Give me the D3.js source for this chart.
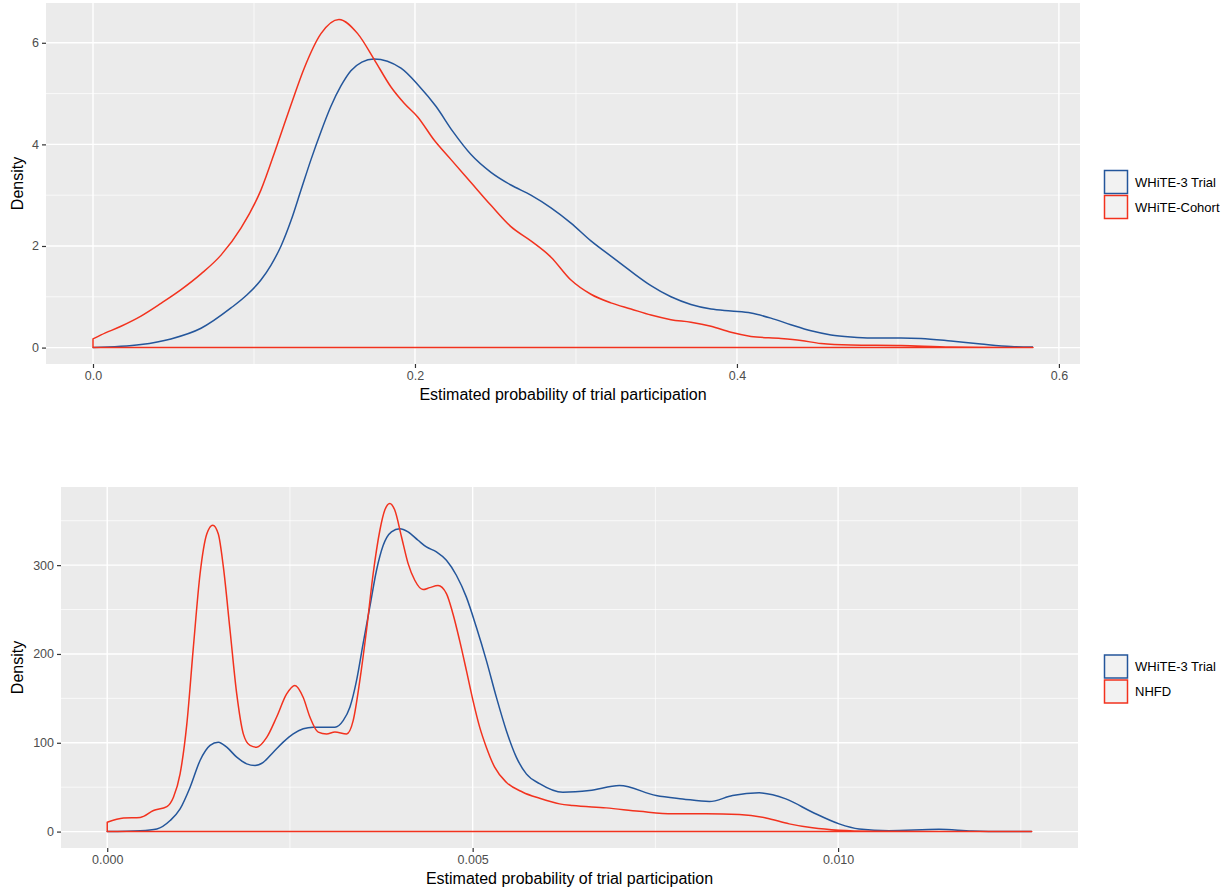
<!DOCTYPE html>
<html>
<head>
<meta charset="utf-8">
<script src="https://cdn.jsdelivr.net/npm/d3@7"></script>
<style>
  html, body { margin: 0; padding: 0; background: #ffffff; }
  svg { display: block; font-family: "Liberation Sans", Arial, Helvetica, sans-serif; }
</style>
</head>
<body>
<svg id="chart" width="1228" height="890"></svg>
<script>
// ---------------- DATA ----------------
const seriesTop = ["WHiTE-3 Trial", "WHiTE-Cohort"];
const seriesBottom = ["WHiTE-3 Trial", "NHFD"];
const xTicksTop = [0.0, 0.2, 0.4, 0.6];
const yTicksTop = [0, 2, 4, 6];
const xTicksBottom = [0.000, 0.005, 0.010];
const yTicksBottom = [0, 100, 200, 300];

// Top panel: WHiTE-3 Trial density
const topTrialX = [0, 0.0298, 0.0484, 0.0671, 0.0857, 0.0950, 0.1043, 0.1105, 0.1168, 0.1230, 0.1292, 0.1354, 0.1416, 0.1478, 0.1540, 0.1602, 0.1670, 0.1745, 0.1913, 0.2025, 0.2130, 0.2236, 0.2348, 0.2472, 0.2596, 0.2720, 0.2845, 0.2969, 0.3093, 0.3217, 0.3342, 0.3466, 0.3590, 0.3714, 0.3839, 0.3963, 0.4087, 0.4211, 0.4335, 0.4460, 0.4584, 0.4708, 0.4832, 0.5019, 0.5143, 0.5329, 0.5516, 0.5702, 0.5839];
const topTrialY = [0, 0.06, 0.17, 0.38, 0.78, 1.02, 1.33, 1.62, 2.0, 2.5, 3.1, 3.7, 4.25, 4.75, 5.15, 5.45, 5.62, 5.68, 5.5, 5.15, 4.75, 4.25, 3.8, 3.45, 3.2, 3.0, 2.75, 2.45, 2.1, 1.8, 1.5, 1.22, 1.0, 0.85, 0.76, 0.72, 0.68, 0.58, 0.45, 0.33, 0.25, 0.21, 0.19, 0.19, 0.18, 0.13, 0.07, 0.02, 0.01];

// Top panel: WHiTE-Cohort density
const topCohortX = [0, 0, 0.005, 0.0174, 0.0298, 0.0422, 0.0547, 0.0671, 0.0795, 0.0919, 0.1043, 0.1145, 0.1230, 0.1312, 0.1416, 0.1528, 0.1644, 0.1747, 0.1851, 0.1933, 0.2017, 0.2120, 0.2224, 0.2348, 0.2472, 0.2596, 0.2720, 0.2845, 0.2969, 0.3093, 0.3217, 0.3342, 0.3466, 0.3590, 0.3714, 0.3839, 0.3963, 0.4087, 0.4273, 0.4398, 0.4522, 0.4708, 0.5019, 0.5329, 0.5839];
const topCohortY = [0, 0.17, 0.25, 0.42, 0.62, 0.87, 1.14, 1.45, 1.82, 2.35, 3.1, 4.0, 4.78, 5.5, 6.18, 6.46, 6.18, 5.67, 5.13, 4.81, 4.54, 4.08, 3.7, 3.25, 2.8, 2.38, 2.1, 1.78, 1.33, 1.05, 0.88, 0.76, 0.64, 0.55, 0.5, 0.42, 0.3, 0.22, 0.18, 0.14, 0.08, 0.05, 0.04, 0.01, 0];

// Bottom panel: WHiTE-3 Trial density
const botTrialX = [0, 0.000451, 0.000679, 0.000861, 0.000997, 0.001134, 0.001270, 0.001407, 0.001520, 0.001635, 0.001772, 0.001908, 0.002022, 0.002135, 0.002272, 0.002408, 0.002545, 0.002682, 0.002818, 0.002955, 0.003115, 0.003228, 0.003320, 0.003411, 0.003501, 0.003593, 0.003684, 0.003775, 0.003889, 0.004003, 0.004116, 0.004253, 0.004367, 0.004504, 0.004641, 0.004777, 0.004914, 0.005051, 0.005187, 0.005324, 0.005460, 0.005597, 0.005734, 0.005915, 0.006234, 0.006598, 0.007008, 0.007510, 0.007873, 0.008238, 0.008556, 0.008921, 0.009285, 0.009649, 0.010014, 0.010287, 0.010697, 0.011380, 0.011831, 0.012291, 0.012650];
const botTrialY = [0, 1, 3, 12.4, 25.6, 50, 80, 97, 100.7, 95, 83.8, 76.3, 74.4, 78, 89.4, 100.7, 110, 115.8, 117.6, 117.6, 117.6, 125, 140, 170, 211.6, 253, 294, 322, 337.4, 341, 337.4, 328, 320.5, 315, 305.5, 288.6, 264, 230, 192.8, 151.4, 113.9, 83.8, 65, 54, 44.3, 46.2, 51.9, 40.6, 36.8, 33.8, 40.6, 43.6, 36.8, 21.8, 8.7, 3, 1, 2.5, 0.6, 0, 0];

// Bottom panel: NHFD density
const botNhfdX = [0, 0, 0.000223, 0.000451, 0.000633, 0.000816, 0.000906, 0.000997, 0.001089, 0.001179, 0.001270, 0.001362, 0.001444, 0.001520, 0.001589, 0.001680, 0.001772, 0.001862, 0.001954, 0.002045, 0.002182, 0.002318, 0.002455, 0.002568, 0.002682, 0.002773, 0.002887, 0.003001, 0.003115, 0.003275, 0.003365, 0.003456, 0.003548, 0.003638, 0.003730, 0.003798, 0.003866, 0.003934, 0.004026, 0.004116, 0.004208, 0.004321, 0.004413, 0.004526, 0.004641, 0.004731, 0.004822, 0.004914, 0.005004, 0.005096, 0.005187, 0.005301, 0.005460, 0.005687, 0.005915, 0.006189, 0.006370, 0.006826, 0.007281, 0.007736, 0.008193, 0.008648, 0.009012, 0.009331, 0.009649, 0.010014, 0.010469, 0.011380, 0.012650];
const botNhfdY = [0, 10.5, 15.4, 16, 23.7, 28.2, 38.7, 65, 121, 208, 290, 335, 345, 335, 298, 227, 155, 110, 97, 95, 106, 129, 155, 164.6, 151, 129, 112, 110, 112, 110, 125, 170, 227, 290, 339, 362, 369.5, 362, 332, 302, 283, 272.5, 274.7, 277, 268, 245, 215, 181.5, 147.7, 117.6, 95, 72.5, 55.6, 44.3, 37.5, 31.2, 29.3, 26.7, 22.9, 20, 20, 19.2, 15.4, 8.7, 4.2, 1.5, 0.4, 0.05, 0];

const colors = ["#24569B", "#F2321E"];

// ---------------- DRAW ----------------
const svg = d3.select("#chart");

function panel(cfg) {
  const { left, right, top, bottom, xs, ys, names, xTicks, yTicks, xFmt, minorX, minorY, legendY, titleY } = cfg;
  const xMax = d3.max(xs.flat());
  const yMax = d3.max(ys.flat());
  const x = d3.scaleLinear().domain([-0.05 * xMax, 1.05 * xMax]).range([left, right]);
  const y = d3.scaleLinear().domain([-0.05 * yMax, 1.05 * yMax]).range([bottom, top]);

  const g = svg.append("g");
  g.append("rect").attr("x", left).attr("y", top).attr("width", right - left).attr("height", bottom - top).attr("fill", "#EBEBEB");

  // minor grid
  g.selectAll(".mx").data(minorX).join("line")
    .attr("x1", d => x(d)).attr("x2", d => x(d)).attr("y1", top).attr("y2", bottom)
    .attr("stroke", "#ffffff").attr("stroke-width", 0.7);
  g.selectAll(".my").data(minorY).join("line")
    .attr("y1", d => y(d)).attr("y2", d => y(d)).attr("x1", left).attr("x2", right)
    .attr("stroke", "#ffffff").attr("stroke-width", 0.7);
  // major grid
  g.selectAll(".Mx").data(xTicks).join("line")
    .attr("x1", d => x(d)).attr("x2", d => x(d)).attr("y1", top).attr("y2", bottom)
    .attr("stroke", "#ffffff").attr("stroke-width", 1.4);
  g.selectAll(".My").data(yTicks).join("line")
    .attr("y1", d => y(d)).attr("y2", d => y(d)).attr("x1", left).attr("x2", right)
    .attr("stroke", "#ffffff").attr("stroke-width", 1.4);

  // curves (density outlines; the last series closes along the baseline on top)
  const line = d3.line().x(d => x(d[0])).y(d => y(d[1])).curve(d3.curveMonotoneX);
  xs.forEach((xa, i) => {
    const pts = xa.map((v, k) => [v, ys[i][k]]);
    let start = 0;
    if (pts.length > 1 && pts[0][0] === pts[1][0]) start = 1;
    const smooth = pts.slice(start);
    let path = `M${x(pts[0][0])},${y(0)}` + line(smooth).replace(/^M/, "L");
    if (i === xs.length - 1) {
      path += `L${x(smooth[smooth.length - 1][0])},${y(0)}Z`;
    }
    g.append("path").attr("d", path).attr("fill", "none")
      .attr("stroke", colors[i]).attr("stroke-width", 1.5).attr("stroke-linejoin", "round");
  });

  // axes
  const xAxis = d3.axisBottom(x).tickValues(xTicks).tickFormat(d3.format(xFmt)).tickSize(4).tickPadding(3);
  const ax = g.append("g").attr("transform", `translate(0,${bottom})`).call(xAxis);
  const yAxis = d3.axisLeft(y).tickValues(yTicks).tickFormat(d3.format("d")).tickSize(4).tickPadding(3);
  const ay = g.append("g").attr("transform", `translate(${left},0)`).call(yAxis);
  [ax, ay].forEach(a => {
    a.select(".domain").remove();
    a.selectAll(".tick line").attr("stroke", "#333333").attr("stroke-width", 1.2);
    a.selectAll(".tick text").attr("fill", "#4D4D4D").style("font-size", "12.5px")
      .style("font-family", "'Liberation Sans', Arial, sans-serif");
  });

  // titles
  g.append("text").attr("x", (left + right) / 2).attr("y", titleY).attr("text-anchor", "middle")
    .style("font-size", "16px").attr("fill", "#000").text("Estimated probability of trial participation");
  g.append("text").attr("transform", `translate(23,${(top + bottom) / 2}) rotate(-90)`)
    .attr("text-anchor", "middle").style("font-size", "16px").attr("fill", "#000").text("Density");

  // legend
  names.forEach((n, i) => {
    const ky = legendY + i * 25;
    g.append("rect").attr("x", 1104.5).attr("y", ky).attr("width", 23).attr("height", 23)
      .attr("fill", "#F2F2F2").attr("stroke", colors[i]).attr("stroke-width", 1.5);
    g.append("text").attr("x", 1135).attr("y", ky + 11.5).attr("dy", "0.35em")
      .style("font-size", "13px").attr("fill", "#000").text(n);
  });
}

panel({
  left: 46, right: 1080, top: 3, bottom: 364,
  xs: [topTrialX, topCohortX], ys: [topTrialY, topCohortY], names: seriesTop,
  xTicks: xTicksTop, yTicks: yTicksTop, xFmt: ".1f",
  minorX: [0.1, 0.3, 0.5], minorY: [1, 3, 5],
  legendY: 170.5, titleY: 400
});

panel({
  left: 61, right: 1078, top: 487, bottom: 848,
  xs: [botTrialX, botNhfdX], ys: [botTrialY, botNhfdY], names: seriesBottom,
  xTicks: xTicksBottom, yTicks: yTicksBottom, xFmt: ".3f",
  minorX: [0.0025, 0.0075, 0.0125], minorY: [50, 150, 250, 350],
  legendY: 655, titleY: 884
});
</script>
</body>
</html>
